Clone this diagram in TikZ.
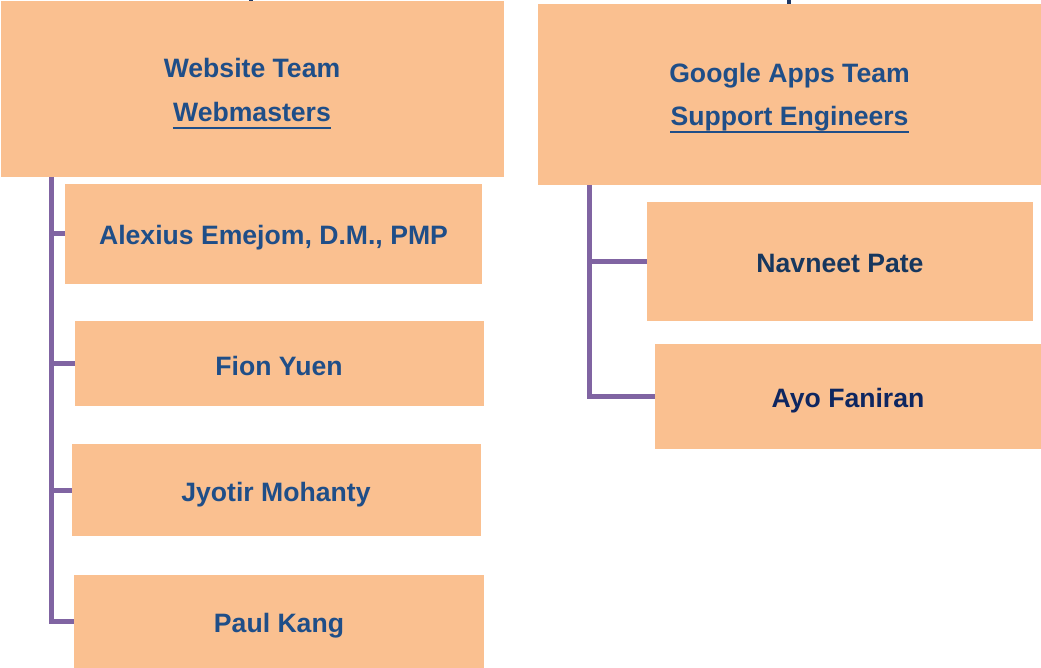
\documentclass[tikz,border=0pt]{standalone}
\usepackage{fontspec}
\setmainfont{Liberation Sans}
\definecolor{boxfill}{HTML}{FAC090}
\definecolor{txtblue}{HTML}{1F4E88}
\definecolor{txtdark}{HTML}{17375E}
\definecolor{txtnavy}{HTML}{0E2660}
\definecolor{connc}{HTML}{8064A2}
\definecolor{stubc}{HTML}{1F3864}
\begin{document}
\begin{tikzpicture}[x=1pt,y=-1pt,
  box/.style={fill=boxfill, draw=none, inner sep=0pt, outer sep=0pt},
  lbl/.style={font=\bfseries\fontsize{26.6}{30}\selectfont, text=txtblue, inner sep=0pt, anchor=base},
  conn/.style={draw=connc, line width=5pt},
  uline/.style={draw=txtblue, line width=2pt},
  stub/.style={draw=stubc, line width=4pt}]
\useasboundingbox (0,0) rectangle (1041,668);
% boxes
\node[box, minimum width=503pt, minimum height=176pt] (web) at (252.5,89) {};
\node[box, minimum width=503pt, minimum height=181pt] (gapps) at (789.5,94.5) {};
\node[box, minimum width=417pt, minimum height=100pt] (alex) at (273.5,234) {};
\node[box, minimum width=409pt, minimum height=85pt] (fion) at (279.5,363.5) {};
\node[box, minimum width=409pt, minimum height=92pt] (jyot) at (276.5,490) {};
\node[box, minimum width=410pt, minimum height=93pt] (paul) at (279,621.5) {};
\node[box, minimum width=386pt, minimum height=119pt] (navn) at (840,261.5) {};
\node[box, minimum width=386pt, minimum height=105pt] (ayo) at (848,396.5) {};
% stubs at top
\coordinate (s1) at (251,0);
\coordinate (s2) at (789,0);
\draw[stub] (s1) -- (s1 |- web.north);
\draw[stub] (s2) -- (s2 |- gapps.north);
% labels
\node[lbl] (webt) at (252,78) {Website Team};
\node[lbl] (webm) at (252,122) {Webmasters};
\draw[uline] ([yshift=-6pt]webm.base west) -- ([yshift=-6pt]webm.base east);
\node[lbl] (gat) at (789.5,83) {Google Apps Team};
\node[lbl] (gas) at (789.5,126) {Support Engineers};
\draw[uline] ([yshift=-6pt]gas.base west) -- ([yshift=-6pt]gas.base east);
\node[lbl] (alext) at (273.5,245) {Alexius Emejom, D.M., PMP};
\node[lbl] (fiont) at (279,375.5) {Fion Yuen};
\node[lbl] (jyott) at (276,501.5) {Jyotir Mohanty};
\node[lbl] (pault) at (279,632.5) {Paul Kang};
\node[lbl, text=txtdark] (navnt) at (840,272.5) {Navneet Pate};
\node[lbl, text=txtnavy] (ayot) at (848,407.5) {Ayo Faniran};
% connectors
\coordinate (lt) at (51,177);
\coordinate (rt) at (589,185);
\draw[conn] (lt) |- (paul.west);
\draw[conn] (lt |- alex.west) -- (alex.west);
\draw[conn] (lt |- fion.west) -- (fion.west);
\draw[conn] (lt |- jyot.west) -- (jyot.west);
\draw[conn] (rt) |- (ayo.west);
\draw[conn] (rt |- navn.west) -- (navn.west);
\end{tikzpicture}
\end{document}
